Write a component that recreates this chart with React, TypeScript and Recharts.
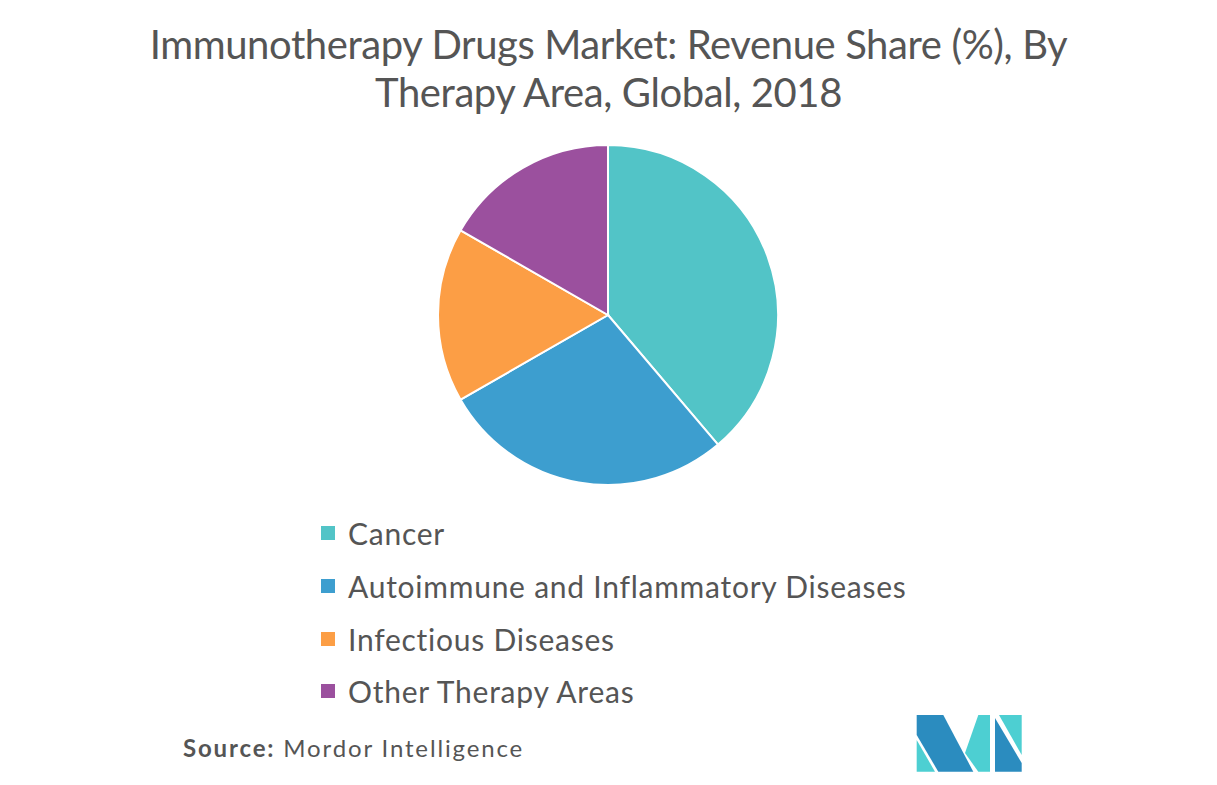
import React from 'react';
import { PieChart, Pie, Cell, Legend } from 'recharts';

const categories = ['Cancer', 'Autoimmune and Inflammatory Diseases', 'Infectious Diseases', 'Other Therapy Areas'];
const shares = [38.8, 27.9, 16.6, 16.7];
const colors = ['#52C4C7', '#3D9ECF', '#FC9E45', '#9B509E'];
const titleLines = ['Immunotherapy Drugs Market: Revenue Share (%), By', 'Therapy Area, Global, 2018'];

const data = categories.map((name, i) => ({ name, value: shares[i] }));

const FONT = 'Lato, "Open Sans", sans-serif';

const renderLegend = () => (
  <div>
    {categories.map((c, i) => (
      <div key={c} style={{ display: 'flex', alignItems: 'center', height: 52.7, fontFamily: FONT, fontSize: 30, letterSpacing: 0.75, color: '#555' }}>
        <span style={{ display: 'inline-block', width: 14, height: 14, background: colors[i], marginRight: 13 }} />
        <span>{c}</span>
      </div>
    ))}
  </div>
);

const Logo = () => (
  <svg width={110} height={60} style={{ position: 'absolute', left: 914, top: 713 }} viewBox="0 0 110 60">
    <g transform="translate(-914,-713)">
      <polygon points="916.7,740 916.7,771.7 935,771.7" fill="#4DCFD2" />
      <polygon points="916.7,715 943.3,715 973.3,771.7 938.3,771.7 916.7,735" fill="#2B8CBF" />
      <polygon points="965,753 978.3,715 990,715 990,771.7 978.3,771.7" fill="#4DCFD2" />
      <polygon points="995,718 995,771.7 1021.7,771.7 1021.7,763" fill="#2B8CBF" />
      <polygon points="999,715 1021.7,715 1021.7,755" fill="#4DCFD2" />
    </g>
  </svg>
);

export default function App() {
  return (
    <div style={{ position: 'absolute', left: 0, top: 0, width: 1217, height: 785, background: '#fff', overflow: 'hidden' }}>
      <div style={{ position: 'absolute', left: 0, top: 20, width: 1217, textAlign: 'center', fontFamily: FONT, fontSize: 40, letterSpacing: -0.4, lineHeight: '48px', color: '#555' }}>
        {titleLines.map((t) => (
          <div key={t}>{t}</div>
        ))}
      </div>
      <PieChart width={1217} height={785} margin={{ top: 0, right: 0, bottom: 0, left: 0 }} style={{ position: 'absolute', left: 0, top: 0 }}>
        <Pie
          data={data}
          dataKey="value"
          nameKey="name"
          cx={608}
          cy={315}
          outerRadius={170}
          startAngle={90}
          endAngle={-270}
          stroke="#fff"
          strokeWidth={2}
          isAnimationActive={false}
        >
          {data.map((d, i) => (
            <Cell key={d.name} fill={colors[i]} />
          ))}
        </Pie>
        <Legend content={renderLegend} wrapperStyle={{ position: 'absolute', left: 321, top: 507, width: 700 }} />
      </PieChart>
      <div style={{ position: 'absolute', left: 183, top: 733, fontFamily: FONT, fontSize: 24, letterSpacing: 1.85, color: '#555' }}>
        <b>Source:</b> Mordor Intelligence
      </div>
      <Logo />
    </div>
  );
}
